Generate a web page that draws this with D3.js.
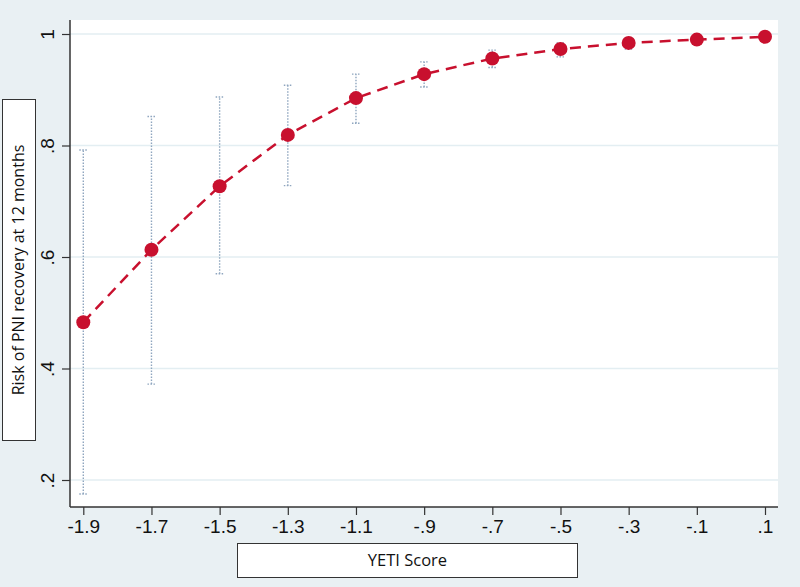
<!DOCTYPE html>
<html>
<head>
<meta charset="utf-8">
<script src="https://cdn.jsdelivr.net/npm/d3@7"></script>
<style>
  body { margin: 0; background: #e9f0f3; }
  svg { display: block; }
  text { font-family: "Open Sans", "Noto Sans", sans-serif; fill: #111; }
</style>
</head>
<body>
<div id="chart"></div>
<script>
// data
var yeti = [-1.9, -1.7, -1.5, -1.3, -1.1, -0.9, -0.7, -0.5, -0.3, -0.1, 0.1];
var risk = [0.483, 0.613, 0.727, 0.819, 0.885, 0.928, 0.956, 0.973, 0.984, 0.990, 0.995];
var ci_low = [0.175, 0.372, 0.570, 0.728, 0.840, 0.905, 0.940, 0.959, 0.973, 0.982, 0.990];
var ci_high = [0.792, 0.852, 0.887, 0.908, 0.928, 0.950, 0.971, 0.984, 0.993, 0.997, 0.999];
var x_ticks = [-1.9, -1.7, -1.5, -1.3, -1.1, -0.9, -0.7, -0.5, -0.3, -0.1, 0.1];
var y_ticks = [0.2, 0.4, 0.6, 0.8, 1];

var width = 800,
    height = 587;

var svg = d3.select("#chart").append("svg")
    .attr("width", width)
    .attr("height", height);

// plot area
var pl = 70, pr = 778, pt = 20, pb = 507;

var x = d3.scaleLinear().domain([-1.9, 0.1]).range([83.3, 765]);
var y = d3.scaleLinear().domain([0.2, 1]).range([480, 34]);

// stata style labels: drop the leading zero
function fmt(v) {
    var s = String(+v.toFixed(2));
    return s.replace(/^(-?)0\./, "$1.");
}

svg.append("rect")
    .attr("x", pl)
    .attr("y", pt)
    .attr("width", pr - pl)
    .attr("height", pb - pt)
    .attr("fill", "#fff");

// grid
svg.append("g").selectAll("line")
    .data(y_ticks)
    .enter().append("line")
    .attr("x1", pl)
    .attr("x2", pr)
    .attr("y1", function(d) { return y(d); })
    .attr("y2", function(d) { return y(d); })
    .attr("stroke", "#e3eef2")
    .attr("stroke-width", 1.5);

// axes
var yAxis = d3.axisLeft(y).tickValues(y_ticks).tickSize(8).tickFormat(fmt);
var xAxis = d3.axisBottom(x).tickValues(x_ticks).tickSize(8).tickFormat(fmt);

var gy = svg.append("g")
    .attr("transform", "translate(" + pl + ",0)")
    .call(yAxis);
gy.select(".domain").attr("d", "M0," + pt + "V" + pb).attr("stroke", "#333").attr("stroke-width", 1.5);
gy.selectAll(".tick line").attr("stroke", "#333").attr("stroke-width", 1.2);
gy.selectAll(".tick text")
    .attr("x", 0)
    .attr("dy", 0)
    .attr("transform", "translate(-16,0) rotate(-90)")
    .style("text-anchor", "middle")
    .style("font-size", "19px")
    .style("font-family", "'Liberation Sans', Arial, sans-serif")
    .attr("fill", "#111");

var gx = svg.append("g")
    .attr("transform", "translate(0," + pb + ")")
    .call(xAxis);
gx.select(".domain").attr("d", "M" + pl + ",0H" + pr).attr("stroke", "#333").attr("stroke-width", 1.5);
gx.selectAll(".tick line").attr("stroke", "#333").attr("stroke-width", 1.2);
gx.selectAll(".tick text")
    .attr("y", 13)
    .attr("dy", "0.71em")
    .style("font-size", "19px")
    .style("font-family", "'Liberation Sans', Arial, sans-serif")
    .attr("fill", "#111");

// error bars
var bars = svg.append("g")
    .attr("stroke", "#8fa6bf")
    .attr("stroke-width", 1.4)
    .attr("stroke-dasharray", "1.5,1.5")
    .attr("fill", "none");

for (var i = 0; i < yeti.length; i++) {
    var cx = x(yeti[i]);
    bars.append("line")
        .attr("x1", cx).attr("x2", cx)
        .attr("y1", y(ci_low[i])).attr("y2", y(ci_high[i]));
    bars.append("line")
        .attr("x1", cx - 4).attr("x2", cx + 4)
        .attr("y1", y(ci_low[i])).attr("y2", y(ci_low[i]));
    bars.append("line")
        .attr("x1", cx - 4).attr("x2", cx + 4)
        .attr("y1", y(ci_high[i])).attr("y2", y(ci_high[i]));
}

// dashed line + markers
var line = d3.line()
    .x(function(d, i) { return x(yeti[i]); })
    .y(function(d) { return y(d); });

svg.append("path")
    .datum(risk)
    .attr("d", line)
    .attr("fill", "none")
    .attr("stroke", "#c8102e")
    .attr("stroke-width", 2.5)
    .attr("stroke-dasharray", "11,7");

svg.append("g").selectAll("circle")
    .data(risk)
    .enter().append("circle")
    .attr("cx", function(d, i) { return x(yeti[i]); })
    .attr("cy", function(d) { return y(d); })
    .attr("r", 7)
    .attr("fill", "#c8102e");

// axis titles in boxes
svg.append("rect")
    .attr("x", 2.5).attr("y", 99.5)
    .attr("width", 33).attr("height", 341)
    .attr("fill", "#fff").attr("stroke", "#333").attr("stroke-width", 1);
svg.append("text")
    .attr("transform", "translate(24," + 270 + ") rotate(-90)")
    .style("text-anchor", "middle")
    .style("font-size", "16px")
    .text("Risk of PNI recovery at 12 months");

svg.append("rect")
    .attr("x", 237.5).attr("y", 543.5)
    .attr("width", 340).attr("height", 34)
    .attr("fill", "#fff").attr("stroke", "#333").attr("stroke-width", 1);
svg.append("text")
    .attr("x", 407.5).attr("y", 566)
    .style("text-anchor", "middle")
    .style("font-size", "16.5px")
    .text("YETI Score");
</script>
</body>
</html>
